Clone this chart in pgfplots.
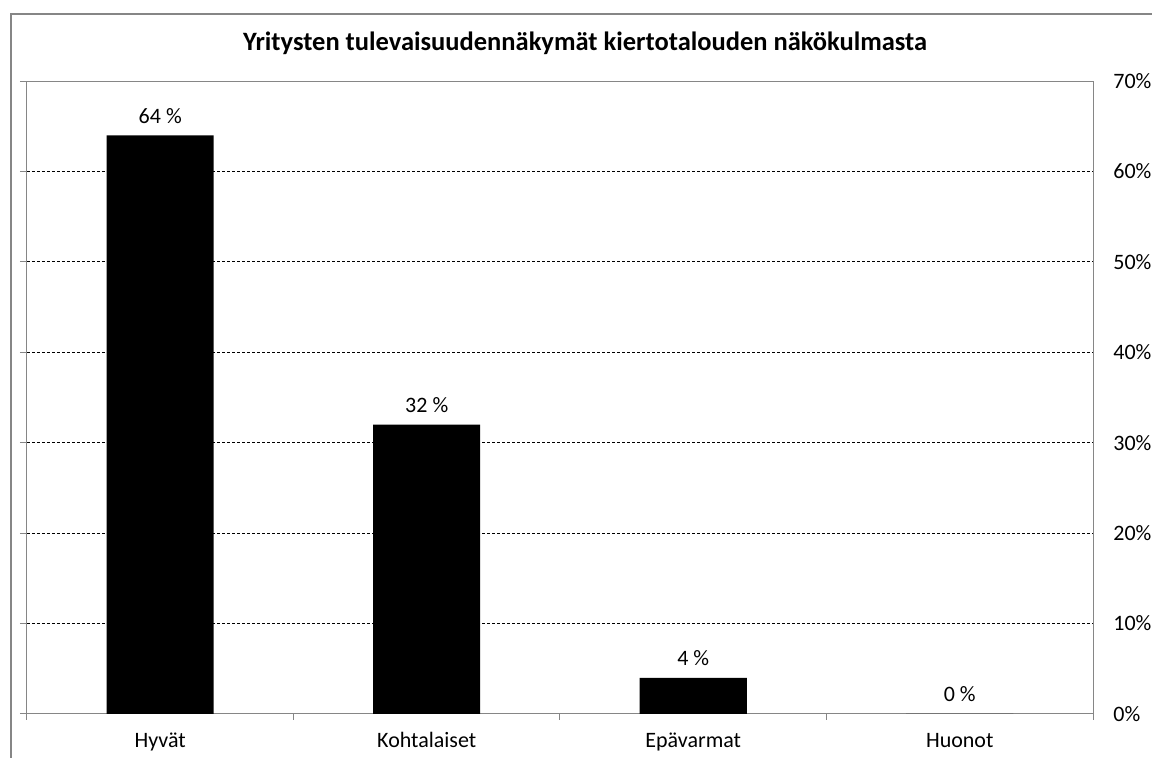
\documentclass[border=0pt]{standalone}
\usepackage{fontspec}
\setmainfont{Carlito}
\usepackage{pgfplots}
\pgfplotsset{compat=1.18}
\definecolor{axgray}{RGB}{134,134,134}
\begin{document}
\begin{tikzpicture}
\path[use as bounding box] (0,0) rectangle (576pt,-379pt);
\begin{scope}[x=0.5pt,y=-0.5pt]
\draw[axgray, line width=0.6pt] (11,758)--(11,14)--(1152,14);
\node[font=\bfseries\fontsize{13.25}{15}\selectfont, text=black] at (585,43) {Yritysten tulevaisuudennäkymät kiertotalouden näkökulmasta};
\end{scope}
\begin{axis}[
  at={(13.5pt,-357pt)}, anchor=south west,
  scale only axis, width=533pt, height=316.5pt,
  xmin=-0.5, xmax=3.5, ymin=0, ymax=70,
  axis line style={axgray, line width=0.5pt},
  xtick={0,1,2,3},
  xticklabels={Hyvät,Kohtalaiset,Epävarmat,Huonot},
  minor xtick={-0.5,0.5,1.5,2.5,3.5},
  xtick pos=bottom, ytick pos=left, yticklabel pos=right,
  tick align=outside,
  major x tick style={draw=none},
  minor tick length=3pt, major tick length=3.5pt,
  every tick/.style={axgray, line width=0.5pt},
  ytick={10,20,30,40,50,60},
  yticklabels={10\%,20\%,30\%,40\%,50\%,60\%},
  extra y ticks={0,70},
  extra y tick labels={0\%,70\%},
  extra y tick style={grid=none},
  ymajorgrids,
  major grid style={black, line width=0.5pt, dash pattern=on 1.5pt off 1pt},
  tick label style={font=\fontsize{11}{13}\selectfont, text=black},
  yticklabel style={anchor=west, inner xsep=0pt, xshift=6.5pt},
  xticklabel style={text height=7pt, text depth=2pt, yshift=-2.5pt},
  /pgf/number format/assume math mode=true,
  ybar, bar width=53.5pt,
  nodes near coords={\pgfmathprintnumber{\pgfplotspointmeta} \%},
  every node near coord/.append style={font=\fontsize{11}{13}\selectfont, text=black, yshift=2.5pt},
  clip=false,
]
\addplot[fill=black, draw=none] coordinates {(0,64) (1,32) (2,4) (3,0)};
\end{axis}
\end{tikzpicture}
\end{document}
